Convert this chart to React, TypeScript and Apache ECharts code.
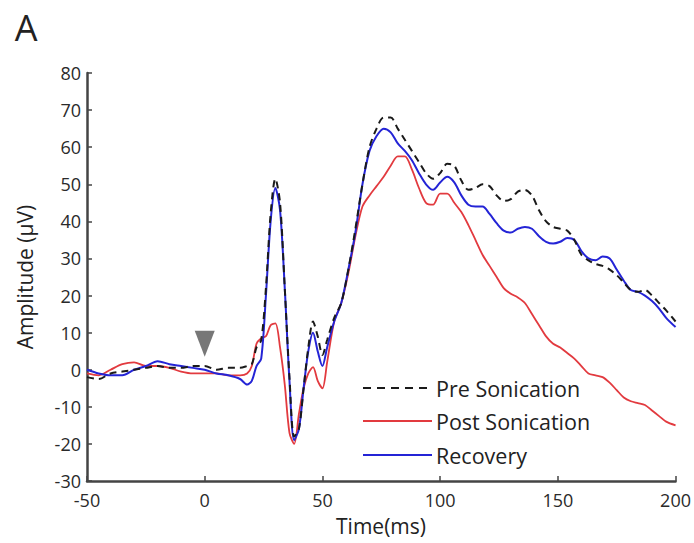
import React, { useEffect, useRef } from "react";
import * as echarts from "echarts";

const times = [
  -50, -45, -40, -35, -30, -25, -20, -15, -10, -5, 0, 5, 10, 15, 18, 20, 22, 24, 26, 28,
  30, 32, 34, 36, 38, 40, 42, 44, 46, 48, 50, 52, 55, 58, 61, 64, 67, 70, 73, 76,
  79, 82, 85, 88, 91, 94, 97, 100, 103, 106, 109, 112, 115, 118, 121, 124, 127, 130, 133, 136,
  139, 142, 145, 148, 151, 154, 157, 160, 163, 166, 169, 172, 175, 178, 181, 184, 187, 190, 193, 196, 200,
];

const preSonication = [
  -2, -2.5, -1, -0.5, 0, 0.5, 1, 0.5, 0.5, 1, 1, 0, 0.5, 0.5, 1, 1.5, 6, 8, 22, 42,
  51.5, 45, 22, -2, -18, -16, -5, 6, 13, 9, 4, 8, 14, 18, 27, 38, 50, 60, 65, 68,
  68, 65, 62, 59, 56, 53, 51.5, 53, 55.5, 55, 51, 48.5, 49, 50, 49.5, 47, 45.5, 46, 48, 48.5,
  47, 43, 40, 38.5, 38, 37.5, 35, 31, 29.5, 28.5, 28, 27, 25.5, 23.5, 21.5, 21, 21.5, 20, 18, 16, 13,
];

const postSonication = [
  -1, -1.5, 0, 1.5, 2, 1, 1, 0.5, -0.5, -1, -1, -1, -1.5, -1.5, -1, 1, 7, 8.5, 9, 12,
  12.5, 6, -4, -17, -20, -12, -5, -1, 0.7, -3, -5, 2, 13, 18, 26, 36, 44, 47, 49.5, 52,
  55, 57.5, 57.5, 54, 49, 45, 44.5, 47.5, 47.5, 45, 42.5, 39, 35, 31, 28, 25, 22, 20.5, 19.5, 18,
  15, 12, 9, 7, 6, 4.5, 3, 1, -1, -1.5, -2, -3.5, -5.5, -7.5, -8.5, -9, -9.5, -11, -12.5, -14, -15,
];

const recovery = [
  0, -1, -1.5, -1.5, 0, 1, 2.3, 1.5, 1, 0.5, 0, -1, -1.5, -2.5, -4, -3, 1, 3, 20, 40,
  49, 43, 22, -3, -19, -16, -5, 5, 10, 5, 1, 6, 13, 18, 27, 37, 50, 59, 63, 65,
  64, 61, 59, 56.5, 53, 50, 48.5, 50.5, 52, 50.5, 47, 44.5, 44, 44, 42, 39.5, 37.5, 37, 38, 38.5,
  38, 36, 34.5, 34, 34.5, 35.5, 35, 32, 30, 29.5, 30.5, 30, 27, 24, 21.5, 21, 20, 18.5, 16.5, 14, 11.5,
];

const seriesNames = ["Pre Sonication", "Post Sonication", "Recovery"];
const seriesColors = ["#1a1a1a", "#e23a3f", "#2424d6"];
const stimulusMarker = [[0, 7]];

const xTicks = { min: -50, max: 200, interval: 50 };
const yTicks = { min: -30, max: 80, interval: 10 };

const pair = (vals: number[]) => times.map((t, i) => [t, vals[i]]);

export default function App() {
  const ref = useRef<HTMLDivElement>(null);
  useEffect(() => {
    if (!ref.current) return;
    const chart = echarts.init(ref.current, undefined, { renderer: "svg" });
    const axisColor = "#444";
    const font = "Open Sans";
    const legendRows = [388, 421, 455];
    const legendGraphics: any[] = [];
    seriesNames.forEach((name, i) => {
      legendGraphics.push({
        type: "line",
        shape: { x1: 363, y1: legendRows[i], x2: 432, y2: legendRows[i] },
        style: {
          stroke: seriesColors[i],
          lineWidth: 2,
          lineDash: i === 0 ? [8, 6] : null,
        },
      });
      legendGraphics.push({
        type: "text",
        x: 436,
        y: legendRows[i],
        style: { text: name, fontSize: 21.5, fontFamily: font, fill: "#222", align: "left", verticalAlign: "middle" },
      });
    });
    chart.setOption({
      animation: false,
      backgroundColor: "#ffffff",
      textStyle: { fontFamily: font },
      grid: { left: 87, right: 17, top: 73, bottom: 62, containLabel: false },
      xAxis: {
        type: "value",
        min: xTicks.min,
        max: xTicks.max,
        interval: xTicks.interval,
        splitLine: { show: false },
        axisLine: { onZero: false, lineStyle: { color: axisColor, width: 2.5 } },
        axisTick: { inside: true, length: 5, lineStyle: { color: axisColor, width: 1.5 } },
        axisLabel: { color: "#2a2a2a", fontSize: 18, margin: 10, fontFamily: font },
      },
      yAxis: {
        type: "value",
        min: yTicks.min,
        max: yTicks.max,
        interval: yTicks.interval,
        splitLine: { show: false },
        axisLine: { onZero: false, lineStyle: { color: axisColor, width: 2.5 } },
        axisTick: { inside: true, length: 5, lineStyle: { color: axisColor, width: 1.5 } },
        axisLabel: { color: "#2a2a2a", fontSize: 18, margin: 6, fontFamily: font },
      },
      graphic: [
        {
          type: "text",
          x: 26,
          y: 27,
          style: { text: "A", fontSize: 36, fontFamily: font, fill: "#222", align: "center", verticalAlign: "middle" },
        },
        {
          type: "text",
          x: 381,
          y: 526,
          style: { text: "Time(ms)", fontSize: 21, fontFamily: font, fill: "#222", align: "center", verticalAlign: "middle" },
        },
        {
          type: "text",
          x: 25,
          y: 277,
          rotation: Math.PI / 2,
          style: { text: "Amplitude (μV)", fontSize: 21, fontFamily: font, fill: "#222", align: "center", verticalAlign: "middle" },
        },
        ...legendGraphics,
      ],
      series: [
        {
          name: seriesNames[0],
          type: "line",
          data: pair(preSonication),
          symbol: "none",
          smooth: 0.3,
          z: 3,
          lineStyle: { color: seriesColors[0], width: 2, type: [7, 5] },
        },
        {
          name: seriesNames[1],
          type: "line",
          data: pair(postSonication),
          symbol: "none",
          smooth: 0.3,
          z: 2,
          lineStyle: { color: seriesColors[1], width: 1.8 },
        },
        {
          name: seriesNames[2],
          type: "line",
          data: pair(recovery),
          symbol: "none",
          smooth: 0.3,
          z: 2,
          lineStyle: { color: seriesColors[2], width: 2 },
        },
        {
          name: "marker",
          type: "scatter",
          data: stimulusMarker,
          symbol: "triangle",
          symbolRotate: 180,
          symbolSize: [20, 26],
          itemStyle: { color: "#555555" },
          z: 4,
        },
      ],
    });
    return () => chart.dispose();
  }, []);
  return <div ref={ref} style={{ width: 694, height: 543, position: "absolute", left: 0, top: 0 }} />;
}
